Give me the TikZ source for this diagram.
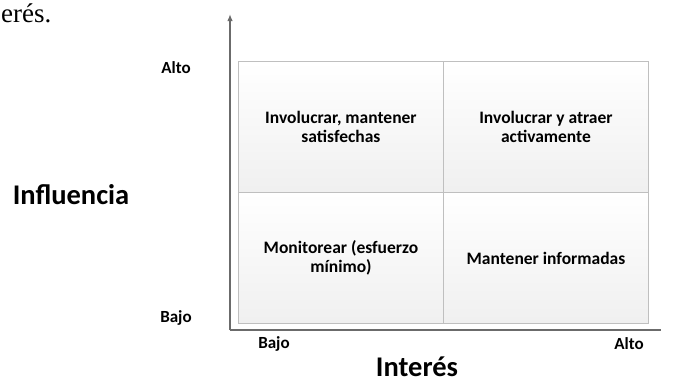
\documentclass[tikz,border=0pt]{standalone}
\usepackage{fontspec}
\usetikzlibrary{arrows.meta}
\setmainfont{Carlito}
\newfontfamily\serif{Liberation Serif}
\begin{document}
\begin{tikzpicture}[x=1pt,y=-1pt,
  cell/.style={draw=gray!50,line width=0.9pt,top color=white,bottom color=gray!12,
    minimum width=205pt,minimum height=131pt,inner sep=0pt,anchor=north west,
    align=center,font=\bfseries\fontsize{17.5}{18.5}\selectfont},
  tick/.style={font=\bfseries\fontsize{17}{19}\selectfont},
  axlabel/.style={font=\bfseries\fontsize{28.5}{30}\selectfont},
  axis/.style={draw=black!58,line width=1.4pt}]
\useasboundingbox (0,0) rectangle (682,383);
% top-left text fragment
\node[anchor=base west,inner sep=0pt,font=\serif\fontsize{27}{29}\selectfont] (frag) at (1,22) {erés.};
% quadrants
\node[cell] (q1) at (238,61) {Involucrar, mantener\\satisfechas};
\node[cell] (q2) at (443,61) {Involucrar y atraer\\activamente};
\node[cell] (q3) at (238,192) {Monitorear (esfuerzo\\mínimo)};
\node[cell] (q4) at (443,192) {Mantener informadas};
% axes
\coordinate (o) at (230,330);
\coordinate (ytop) at (230,14);
\coordinate (xend) at (661,330);
\draw[axis,-{Latex[length=7pt,width=5.5pt]}] (o) -- (ytop);
\draw[axis] (o) -- (xend);
% ticks and axis titles
\node[tick] (yhi) at (176,68) {Alto};
\node[tick] (ylo) at (176,318) {Bajo};
\node[tick] (xlo) at (274,344) {Bajo};
\node[tick] (xhi) at (629,344) {Alto};
\node[axlabel] (ylab) at (71,195) {Influencia};
\node[axlabel,anchor=base,inner sep=0pt] (xlab) at (417,376) {Interés};
\end{tikzpicture}
\end{document}
